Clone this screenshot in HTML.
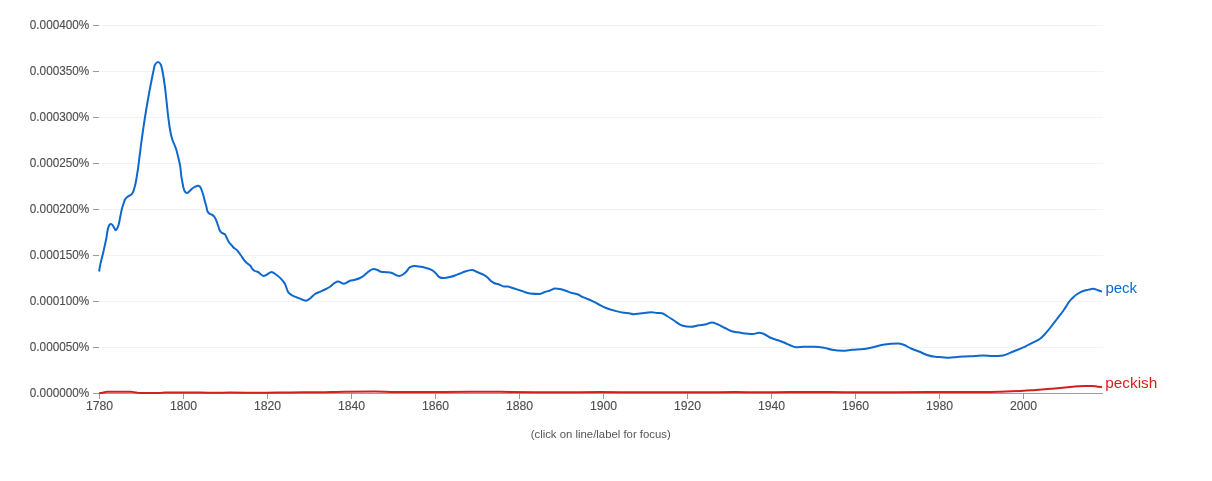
<!DOCTYPE html>
<html><head><meta charset="utf-8"><style>
html,body{margin:0;padding:0;background:#fff;}
svg{display:block;will-change:transform;font-family:"Liberation Sans",Arial,sans-serif;}
.g{stroke:#f3f3f3;stroke-width:1;}
.t{stroke:#999;stroke-width:1;}
.yl{font-size:12.4px;fill:#4e4e4e;stroke:#4e4e4e;stroke-width:0.12px;text-anchor:end;}
.xl{font-size:12.4px;fill:#4e4e4e;stroke:#4e4e4e;stroke-width:0.12px;text-anchor:middle;}
.ax{stroke:#9e9e9e;stroke-width:1;}
.ln{fill:none;stroke-width:2;stroke-linejoin:round;stroke-linecap:butt;}
.lab{font-size:15px;}
.note{font-size:10.8px;fill:#555;text-anchor:middle;}
</style></head><body>
<svg width="1212" height="481" viewBox="0 0 1212 481">
<rect width="1212" height="481" fill="#fff"/>
<line x1="100" y1="25.5" x2="1103" y2="25.5" class="g"/><line x1="93" y1="25.5" x2="99" y2="25.5" class="t"/><text x="89.3" y="28.6" class="yl" textLength="59.5" lengthAdjust="spacingAndGlyphs">0.000400%</text><line x1="100" y1="71.5" x2="1103" y2="71.5" class="g"/><line x1="93" y1="71.5" x2="99" y2="71.5" class="t"/><text x="89.3" y="74.6" class="yl" textLength="59.5" lengthAdjust="spacingAndGlyphs">0.000350%</text><line x1="100" y1="117.5" x2="1103" y2="117.5" class="g"/><line x1="93" y1="117.5" x2="99" y2="117.5" class="t"/><text x="89.3" y="120.6" class="yl" textLength="59.5" lengthAdjust="spacingAndGlyphs">0.000300%</text><line x1="100" y1="163.5" x2="1103" y2="163.5" class="g"/><line x1="93" y1="163.5" x2="99" y2="163.5" class="t"/><text x="89.3" y="166.6" class="yl" textLength="59.5" lengthAdjust="spacingAndGlyphs">0.000250%</text><line x1="100" y1="209.5" x2="1103" y2="209.5" class="g"/><line x1="93" y1="209.5" x2="99" y2="209.5" class="t"/><text x="89.3" y="212.6" class="yl" textLength="59.5" lengthAdjust="spacingAndGlyphs">0.000200%</text><line x1="100" y1="255.5" x2="1103" y2="255.5" class="g"/><line x1="93" y1="255.5" x2="99" y2="255.5" class="t"/><text x="89.3" y="258.6" class="yl" textLength="59.5" lengthAdjust="spacingAndGlyphs">0.000150%</text><line x1="100" y1="301.5" x2="1103" y2="301.5" class="g"/><line x1="93" y1="301.5" x2="99" y2="301.5" class="t"/><text x="89.3" y="304.6" class="yl" textLength="59.5" lengthAdjust="spacingAndGlyphs">0.000100%</text><line x1="100" y1="347.5" x2="1103" y2="347.5" class="g"/><line x1="93" y1="347.5" x2="99" y2="347.5" class="t"/><text x="89.3" y="350.6" class="yl" textLength="59.5" lengthAdjust="spacingAndGlyphs">0.000050%</text><line x1="93" y1="393.5" x2="99" y2="393.5" class="t"/><text x="89.3" y="396.6" class="yl" textLength="59.5" lengthAdjust="spacingAndGlyphs">0.000000%</text>
<line x1="100" y1="393.5" x2="1103" y2="393.5" class="ax"/>
<line x1="99.5" y1="393" x2="99.5" y2="399" class="t"/><text x="99.5" y="409.7" class="xl" textLength="27.2" lengthAdjust="spacingAndGlyphs">1780</text><line x1="183.5" y1="393" x2="183.5" y2="399" class="t"/><text x="183.5" y="409.7" class="xl" textLength="27.2" lengthAdjust="spacingAndGlyphs">1800</text><line x1="267.5" y1="393" x2="267.5" y2="399" class="t"/><text x="267.5" y="409.7" class="xl" textLength="27.2" lengthAdjust="spacingAndGlyphs">1820</text><line x1="351.5" y1="393" x2="351.5" y2="399" class="t"/><text x="351.5" y="409.7" class="xl" textLength="27.2" lengthAdjust="spacingAndGlyphs">1840</text><line x1="435.5" y1="393" x2="435.5" y2="399" class="t"/><text x="435.5" y="409.7" class="xl" textLength="27.2" lengthAdjust="spacingAndGlyphs">1860</text><line x1="519.5" y1="393" x2="519.5" y2="399" class="t"/><text x="519.5" y="409.7" class="xl" textLength="27.2" lengthAdjust="spacingAndGlyphs">1880</text><line x1="603.5" y1="393" x2="603.5" y2="399" class="t"/><text x="603.5" y="409.7" class="xl" textLength="27.2" lengthAdjust="spacingAndGlyphs">1900</text><line x1="687.5" y1="393" x2="687.5" y2="399" class="t"/><text x="687.5" y="409.7" class="xl" textLength="27.2" lengthAdjust="spacingAndGlyphs">1920</text><line x1="771.5" y1="393" x2="771.5" y2="399" class="t"/><text x="771.5" y="409.7" class="xl" textLength="27.2" lengthAdjust="spacingAndGlyphs">1940</text><line x1="855.5" y1="393" x2="855.5" y2="399" class="t"/><text x="855.5" y="409.7" class="xl" textLength="27.2" lengthAdjust="spacingAndGlyphs">1960</text><line x1="939.5" y1="393" x2="939.5" y2="399" class="t"/><text x="939.5" y="409.7" class="xl" textLength="27.2" lengthAdjust="spacingAndGlyphs">1980</text><line x1="1023.5" y1="393" x2="1023.5" y2="399" class="t"/><text x="1023.5" y="409.7" class="xl" textLength="27.2" lengthAdjust="spacingAndGlyphs">2000</text>
<path class="ln" stroke="#d2201f" d="M99.20,393.00 C100.37,392.94 101.53,392.88 102.70,392.70 C104.13,392.48 105.57,391.70 107.00,391.70 C115.00,391.70 123.00,391.70 131.00,391.70 C132.67,391.70 134.33,392.28 136.00,392.50 C137.17,392.66 138.33,392.90 139.50,392.90 C146.33,392.90 153.17,392.90 160.00,392.90 C161.67,392.90 163.33,392.61 165.00,392.60 C176.67,392.53 188.33,392.50 200.00,392.50 C205.00,392.50 210.00,392.80 215.00,392.80 C220.00,392.80 225.00,392.60 230.00,392.60 C240.67,392.60 251.33,392.70 262.00,392.70 C271.33,392.70 280.67,392.48 290.00,392.40 C300.00,392.31 310.00,392.33 320.00,392.20 C328.33,392.09 336.67,391.76 345.00,391.70 C355.00,391.63 365.00,391.60 375.00,391.60 C381.67,391.60 388.33,392.00 395.00,392.00 C403.33,392.00 411.67,392.00 420.00,392.00 C436.67,392.00 453.33,391.88 470.00,391.80 C476.67,391.77 483.33,391.70 490.00,391.70 C496.67,391.70 503.33,391.95 510.00,392.00 C526.67,392.13 543.33,392.20 560.00,392.20 C573.33,392.20 586.67,392.10 600.00,392.10 C613.33,392.10 626.67,392.30 640.00,392.30 C660.00,392.30 680.00,392.30 700.00,392.30 C711.67,392.30 723.33,392.10 735.00,392.10 C743.33,392.10 751.67,392.30 760.00,392.30 C770.00,392.30 780.00,392.10 790.00,392.10 C803.33,392.10 816.67,392.10 830.00,392.10 C840.00,392.10 850.00,392.20 860.00,392.20 C883.33,392.20 906.67,392.17 930.00,392.10 C940.00,392.07 950.00,391.90 960.00,391.90 C968.33,391.90 976.67,391.90 985.00,391.90 C990.00,391.90 995.00,391.77 1000.00,391.65 C1004.00,391.56 1008.00,391.45 1012.00,391.30 C1015.83,391.16 1019.67,391.01 1023.50,390.80 C1026.67,390.63 1029.83,390.41 1033.00,390.20 C1036.00,390.00 1039.00,389.79 1042.00,389.55 C1045.40,389.28 1048.80,388.96 1052.20,388.65 C1055.63,388.33 1059.07,387.97 1062.50,387.65 C1065.90,387.34 1069.30,387.04 1072.70,386.75 C1074.73,386.58 1076.77,386.35 1078.80,386.25 C1080.87,386.15 1082.93,386.10 1085.00,386.10 C1087.33,386.10 1089.67,386.10 1092.00,386.10 C1093.17,386.10 1094.33,386.13 1095.50,386.20 C1096.33,386.25 1097.17,386.62 1098.00,386.70 C1099.33,386.83 1100.67,386.87 1102.00,386.90"/>
<path class="ln" stroke="#0e68ce" d="M99.10,271.50 C99.33,270.01 99.57,268.51 99.80,267.20 C100.13,265.32 100.47,263.82 100.80,262.30 C101.20,260.47 101.60,258.89 102.00,257.30 C102.33,255.98 102.67,254.88 103.00,253.50 C103.33,252.12 103.67,250.51 104.00,249.00 C104.40,247.18 104.80,245.33 105.20,243.50 C105.57,241.83 105.93,240.54 106.30,238.50 C106.63,236.64 106.97,233.84 107.30,232.00 C107.67,229.97 108.03,228.30 108.40,227.10 C108.73,226.01 109.07,225.29 109.40,224.90 C109.97,224.23 110.53,223.90 111.10,223.90 C111.60,223.90 112.10,224.46 112.60,225.10 C113.13,225.79 113.67,227.13 114.20,228.00 C114.70,228.82 115.20,230.20 115.70,230.20 C116.17,230.20 116.63,229.23 117.10,228.40 C117.53,227.63 117.97,226.95 118.40,225.50 C118.73,224.39 119.07,222.97 119.40,221.30 C119.60,220.30 119.80,219.04 120.00,218.00 C120.23,216.79 120.47,215.74 120.70,214.60 C121.03,212.97 121.37,211.03 121.70,209.65 C122.03,208.27 122.37,207.39 122.70,206.30 C123.10,204.99 123.50,203.68 123.90,202.50 C124.20,201.62 124.50,200.68 124.80,200.00 C125.13,199.24 125.47,198.76 125.80,198.30 C126.37,197.52 126.93,197.33 127.50,196.90 C128.03,196.50 128.57,196.14 129.10,195.80 C129.80,195.35 130.50,195.30 131.20,194.60 C131.77,194.03 132.33,193.55 132.90,192.30 C133.23,191.57 133.57,190.67 133.90,189.60 C134.10,188.96 134.30,188.21 134.50,187.50 C134.73,186.68 134.97,185.97 135.20,185.00 C135.53,183.61 135.87,181.90 136.20,180.00 C136.47,178.48 136.73,176.67 137.00,175.00 C137.27,173.33 137.53,171.79 137.80,170.00 C138.03,168.43 138.27,166.82 138.50,165.00 C138.70,163.44 138.90,161.61 139.10,160.00 C139.32,158.26 139.53,156.67 139.75,155.00 C139.97,153.33 140.18,151.74 140.40,150.00 C140.60,148.39 140.80,146.58 141.00,145.00 C141.22,143.23 141.45,141.65 141.67,140.00 C141.90,138.32 142.12,136.63 142.35,135.00 C142.59,133.30 142.82,131.63 143.06,130.00 C143.31,128.30 143.55,126.65 143.80,125.00 C144.05,123.31 144.31,121.64 144.56,120.00 C144.82,118.30 145.09,116.65 145.35,115.00 C145.62,113.31 145.89,111.64 146.16,110.00 C146.44,108.30 146.72,106.65 147.00,105.00 C147.29,103.31 147.57,101.63 147.86,100.00 C148.16,98.29 148.46,96.65 148.76,95.00 C149.07,93.31 149.37,91.64 149.68,90.00 C150.00,88.31 150.31,86.64 150.63,85.00 C150.96,83.31 151.28,81.64 151.61,80.00 C151.95,78.31 152.28,76.65 152.62,75.00 C152.96,73.32 153.31,71.58 153.65,70.00 C154.03,68.23 154.42,65.70 154.80,65.00 C155.90,63.00 157.00,62.00 158.10,62.00 C159.07,62.00 160.03,63.00 161.00,65.00 C161.40,65.83 161.81,68.08 162.21,70.00 C162.53,71.51 162.84,73.19 163.16,75.00 C163.43,76.56 163.71,78.19 163.98,80.00 C164.22,81.56 164.45,83.22 164.69,85.00 C164.90,86.58 165.11,88.22 165.32,90.00 C165.51,91.58 165.69,93.28 165.88,95.00 C166.06,96.62 166.23,98.32 166.41,100.00 C166.58,101.65 166.76,103.33 166.93,105.00 C167.10,106.67 167.28,108.38 167.45,110.00 C167.63,111.72 167.82,113.42 168.00,115.00 C168.21,116.78 168.41,118.41 168.62,120.00 C168.85,121.77 169.08,123.43 169.31,125.00 C169.57,126.80 169.84,128.49 170.10,130.00 C170.43,131.91 170.77,133.53 171.10,135.00 C171.57,137.06 172.03,138.55 172.50,140.00 C173.18,142.13 173.87,143.24 174.55,145.00 C175.17,146.59 175.78,147.92 176.40,150.00 C176.83,151.46 177.27,153.26 177.70,155.00 C178.10,156.61 178.50,158.25 178.90,160.00 C179.27,161.60 179.63,162.75 180.00,165.00 C180.23,166.43 180.47,167.77 180.70,170.00 C180.85,171.43 181.00,173.62 181.15,175.00 C181.37,177.00 181.58,177.93 181.80,179.20 C182.07,180.76 182.33,181.92 182.60,183.30 C182.87,184.68 183.13,186.34 183.40,187.50 C183.83,189.38 184.27,190.50 184.70,191.20 C185.47,192.43 186.23,193.05 187.00,193.05 C187.83,193.05 188.67,191.92 189.50,191.20 C190.33,190.47 191.17,189.39 192.00,188.70 C192.97,187.90 193.93,187.38 194.90,186.90 C195.87,186.43 196.83,185.85 197.80,185.85 C198.50,185.85 199.20,186.10 199.90,186.60 C200.30,186.89 200.70,187.80 201.10,188.70 C201.50,189.60 201.90,190.81 202.30,192.00 C202.67,193.09 203.03,194.19 203.40,195.50 C203.80,196.93 204.20,198.80 204.60,200.30 C205.00,201.80 205.40,203.01 205.80,204.50 C206.10,205.62 206.40,206.62 206.70,208.00 C206.87,208.77 207.03,209.92 207.20,210.50 C207.60,211.90 208.00,212.04 208.40,212.60 C209.10,213.57 209.80,213.78 210.50,214.20 C211.20,214.62 211.90,214.57 212.60,215.10 C213.13,215.50 213.67,215.99 214.20,216.70 C214.63,217.28 215.07,217.92 215.50,218.80 C215.90,219.61 216.30,220.65 216.70,221.70 C217.07,222.66 217.43,223.73 217.80,224.80 C218.10,225.68 218.40,226.63 218.70,227.50 C219.00,228.37 219.30,229.31 219.60,230.00 C220.13,231.22 220.67,231.72 221.20,232.30 C222.03,233.21 222.87,233.13 223.70,233.70 C224.27,234.09 224.83,234.13 225.40,235.00 C225.80,235.61 226.20,236.64 226.60,237.50 C227.03,238.43 227.47,239.54 227.90,240.40 C228.30,241.19 228.70,241.91 229.10,242.50 C229.73,243.44 230.37,243.77 231.00,244.50 C231.67,245.27 232.33,246.26 233.00,247.00 C234.40,248.55 235.80,248.88 237.20,250.40 C238.47,251.78 239.73,253.72 241.00,255.50 C242.23,257.23 243.47,259.47 244.70,260.90 C245.63,261.98 246.57,262.68 247.50,263.50 C248.57,264.43 249.63,264.45 250.70,266.10 C251.13,266.77 251.57,267.83 252.00,268.50 C253.00,270.04 254.00,270.42 255.00,271.00 C256.00,271.58 257.00,271.53 258.00,272.00 C259.83,272.87 261.67,276.00 263.50,276.00 C264.67,276.00 265.83,275.06 267.00,274.50 C268.50,273.77 270.00,272.00 271.50,272.00 C273.00,272.00 274.50,273.45 276.00,274.50 C277.83,275.78 279.67,277.17 281.50,279.30 C282.67,280.65 283.83,281.64 285.00,284.00 C286.00,286.02 287.00,289.98 288.00,291.80 C289.17,293.93 290.33,294.14 291.50,295.00 C293.33,296.35 295.17,296.72 297.00,297.50 C298.67,298.21 300.33,298.93 302.00,299.50 C303.33,299.96 304.67,300.70 306.00,300.70 C307.33,300.70 308.67,299.44 310.00,298.50 C311.67,297.32 313.33,295.12 315.00,294.00 C316.67,292.88 318.33,292.55 320.00,291.80 C321.67,291.05 323.33,290.33 325.00,289.50 C326.67,288.67 328.33,287.97 330.00,286.80 C331.50,285.75 333.00,283.92 334.50,283.00 C335.67,282.29 336.83,281.50 338.00,281.50 C340.00,281.50 342.00,283.70 344.00,283.70 C346.00,283.70 348.00,281.46 350.00,280.80 C351.67,280.25 353.33,280.27 355.00,279.80 C356.67,279.33 358.33,278.85 360.00,278.00 C361.33,277.32 362.67,276.50 364.00,275.50 C365.33,274.50 366.67,272.98 368.00,272.00 C369.83,270.65 371.67,269.00 373.50,269.00 C374.83,269.00 376.17,269.48 377.50,270.00 C378.67,270.46 379.83,271.61 381.00,271.80 C382.67,272.07 384.33,272.03 386.00,272.20 C388.00,272.41 390.00,272.47 392.00,273.00 C393.67,273.44 395.33,274.96 397.00,275.50 C397.67,275.71 398.33,276.00 399.00,276.00 C400.33,276.00 401.67,275.35 403.00,274.50 C404.00,273.86 405.00,272.99 406.00,272.00 C407.33,270.68 408.67,267.84 410.00,267.20 C411.67,266.40 413.33,266.00 415.00,266.00 C417.00,266.00 419.00,266.43 421.00,266.80 C423.00,267.17 425.00,267.53 427.00,268.20 C429.00,268.87 431.00,269.31 433.00,270.80 C434.00,271.54 435.00,272.53 436.00,273.50 C437.17,274.63 438.33,276.73 439.50,277.20 C440.83,277.73 442.17,278.00 443.50,278.00 C445.67,278.00 447.83,277.51 450.00,277.00 C451.67,276.61 453.33,276.08 455.00,275.50 C456.67,274.92 458.33,274.17 460.00,273.50 C461.67,272.83 463.33,272.04 465.00,271.50 C467.33,270.75 469.67,270.00 472.00,270.00 C473.67,270.00 475.33,271.32 477.00,272.00 C479.00,272.82 481.00,273.42 483.00,274.50 C484.33,275.22 485.67,275.92 487.00,277.00 C488.33,278.08 489.67,279.92 491.00,281.00 C492.00,281.81 493.00,282.51 494.00,283.00 C495.33,283.65 496.67,283.58 498.00,284.00 C500.00,284.63 502.00,286.50 504.00,286.50 C505.33,286.50 506.67,286.50 508.00,286.50 C509.00,286.50 510.00,287.17 511.00,287.50 C512.33,287.94 513.67,288.37 515.00,288.80 C517.33,289.55 519.67,290.27 522.00,291.00 C524.67,291.84 527.33,293.20 530.00,293.50 C533.00,293.83 536.00,294.00 539.00,294.00 C541.00,294.00 543.00,292.63 545.00,292.00 C546.67,291.47 548.33,291.08 550.00,290.50 C551.67,289.92 553.33,288.50 555.00,288.50 C556.67,288.50 558.33,288.68 560.00,289.00 C562.00,289.38 564.00,290.13 566.00,290.80 C568.00,291.47 570.00,292.38 572.00,293.00 C574.00,293.62 576.00,293.68 578.00,294.50 C579.67,295.18 581.33,296.38 583.00,297.20 C586.00,298.67 589.00,299.36 592.00,300.80 C594.00,301.76 596.00,302.96 598.00,304.00 C600.67,305.38 603.33,306.90 606.00,308.00 C609.00,309.23 612.00,310.00 615.00,310.80 C618.00,311.60 621.00,312.41 624.00,312.80 C625.67,313.02 627.33,312.97 629.00,313.20 C630.67,313.43 632.33,314.20 634.00,314.20 C636.00,314.20 638.00,313.73 640.00,313.50 C642.00,313.27 644.00,313.02 646.00,312.80 C648.00,312.58 650.00,312.20 652.00,312.20 C653.67,312.20 655.33,312.87 657.00,313.00 C658.67,313.13 660.33,313.07 662.00,313.20 C663.67,313.33 665.33,315.01 667.00,316.00 C669.33,317.39 671.67,319.02 674.00,320.50 C676.67,322.19 679.33,324.73 682.00,325.50 C685.00,326.37 688.00,326.80 691.00,326.80 C693.67,326.80 696.33,325.61 699.00,325.20 C701.00,324.90 703.00,324.89 705.00,324.50 C707.33,324.05 709.67,322.50 712.00,322.50 C713.67,322.50 715.33,323.36 717.00,324.00 C719.33,324.89 721.67,326.33 724.00,327.50 C726.33,328.67 728.67,330.21 731.00,331.00 C733.00,331.68 735.00,331.83 737.00,332.20 C739.00,332.57 741.00,332.96 743.00,333.20 C744.00,333.32 745.00,333.41 746.00,333.50 C748.33,333.71 750.67,334.00 753.00,334.00 C755.00,334.00 757.00,332.80 759.00,332.80 C760.67,332.80 762.33,333.34 764.00,334.00 C766.00,334.79 768.00,336.54 770.00,337.50 C772.33,338.62 774.67,339.17 777.00,340.00 C779.33,340.83 781.67,341.55 784.00,342.50 C786.00,343.31 788.00,344.42 790.00,345.20 C792.00,345.98 794.00,347.20 796.00,347.20 C798.67,347.20 801.33,346.80 804.00,346.80 C807.33,346.80 810.67,346.80 814.00,346.80 C817.33,346.80 820.67,347.19 824.00,347.80 C826.67,348.29 829.33,349.32 832.00,349.80 C835.67,350.47 839.33,350.80 843.00,350.80 C846.00,350.80 849.00,350.08 852.00,349.80 C856.00,349.43 860.00,349.53 864.00,349.00 C866.67,348.64 869.33,348.07 872.00,347.50 C875.67,346.72 879.33,345.44 883.00,344.80 C885.67,344.33 888.33,344.02 891.00,343.80 C893.33,343.61 895.67,343.50 898.00,343.50 C899.67,343.50 901.33,343.97 903.00,344.50 C905.67,345.34 908.33,347.33 911.00,348.50 C913.67,349.67 916.33,350.42 919.00,351.50 C921.67,352.58 924.33,354.12 927.00,355.00 C929.67,355.88 932.33,356.50 935.00,356.80 C937.33,357.07 939.67,357.03 942.00,357.20 C944.33,357.37 946.67,357.80 949.00,357.80 C951.67,357.80 954.33,357.22 957.00,357.00 C959.67,356.78 962.33,356.65 965.00,356.50 C968.33,356.31 971.67,356.21 975.00,356.00 C977.67,355.83 980.33,355.40 983.00,355.40 C986.33,355.40 989.67,356.10 993.00,356.10 C996.33,356.10 999.67,355.87 1003.00,355.40 C1006.43,354.92 1009.87,352.85 1013.30,351.50 C1014.97,350.84 1016.63,350.18 1018.30,349.50 C1019.97,348.82 1021.63,348.17 1023.30,347.40 C1024.97,346.63 1026.63,345.73 1028.30,344.90 C1029.97,344.07 1031.63,343.23 1033.30,342.40 C1034.97,341.57 1036.63,340.99 1038.30,339.90 C1039.40,339.18 1040.50,338.38 1041.60,337.40 C1042.57,336.54 1043.53,335.53 1044.50,334.50 C1045.33,333.61 1046.17,332.67 1047.00,331.70 C1048.27,330.22 1049.53,328.62 1050.80,327.00 C1051.77,325.76 1052.73,324.45 1053.70,323.20 C1054.67,321.95 1055.63,320.75 1056.60,319.50 C1057.57,318.25 1058.53,316.95 1059.50,315.70 C1060.33,314.62 1061.17,313.61 1062.00,312.50 C1062.88,311.32 1063.77,310.14 1064.65,308.80 C1065.33,307.76 1066.02,306.60 1066.70,305.50 C1067.40,304.37 1068.10,303.07 1068.80,302.10 C1069.50,301.12 1070.20,300.42 1070.90,299.65 C1071.80,298.66 1072.70,297.73 1073.60,296.90 C1074.83,295.77 1076.07,294.82 1077.30,294.00 C1078.42,293.26 1079.53,292.68 1080.65,292.15 C1081.77,291.62 1082.88,291.16 1084.00,290.80 C1085.10,290.45 1086.20,290.27 1087.30,290.00 C1088.40,289.73 1089.50,289.38 1090.60,289.15 C1091.57,288.94 1092.53,288.65 1093.50,288.65 C1094.53,288.65 1095.57,289.26 1096.60,289.65 C1097.50,289.99 1098.40,290.49 1099.30,290.80 C1100.20,291.11 1101.10,291.30 1102.00,291.50"/>
<text x="1105.4" y="292.8" class="lab" fill="#0e68ce">peck</text>
<text x="1105.3" y="388" class="lab" fill="#d2201f" textLength="52" lengthAdjust="spacingAndGlyphs">peckish</text>
<text x="600.75" y="437.7" class="note" textLength="140.1" lengthAdjust="spacingAndGlyphs">(click on line/label for focus)</text>
</svg>
</body></html>
